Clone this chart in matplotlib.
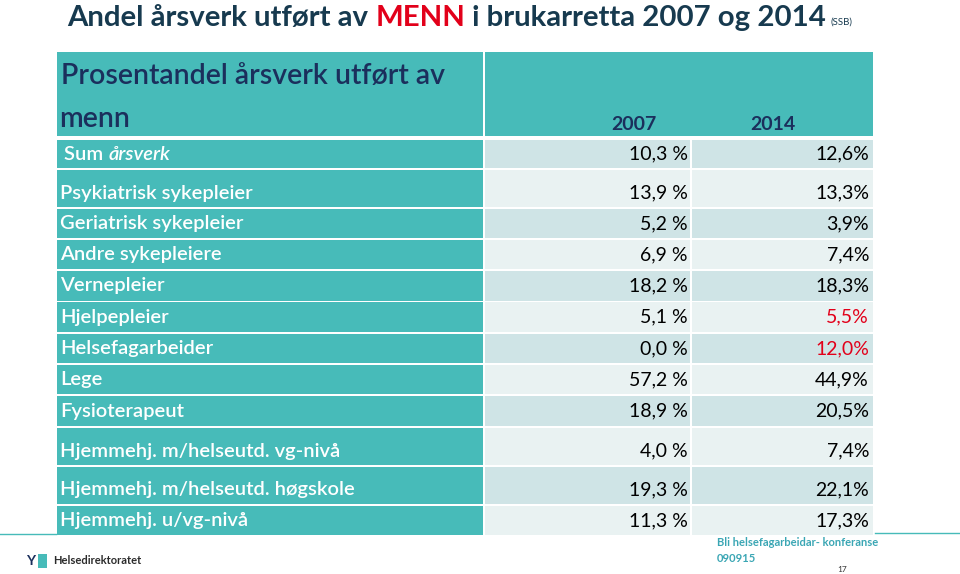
import matplotlib.pyplot as plt
from matplotlib.patches import Rectangle

# table content
categories = ["Sum årsverk", "Psykiatrisk sykepleier", "Geriatrisk sykepleier", "Andre sykepleiere",
              "Vernepleier", "Hjelpepleier", "Helsefagarbeider", "Lege", "Fysioterapeut",
              "Hjemmehj. m/helseutd. vg-nivå", "Hjemmehj. m/helseutd. høgskole", "Hjemmehj. u/vg-nivå"]
share_2007 = [10.3, 13.9, 5.2, 6.9, 18.2, 5.1, 0.0, 57.2, 18.9, 4.0, 19.3, 11.3]
share_2014 = [12.6, 13.3, 3.9, 7.4, 18.3, 5.5, 12.0, 44.9, 20.5, 7.4, 22.1, 17.3]
highlight_2014 = ["Hjelpepleier", "Helsefagarbeider"]
years = ["2007", "2014"]

# layout (pixels)
row_tops = [140, 170, 209, 240, 271, 302, 334, 365, 396, 428, 467, 506]
row_bottoms = [168, 207, 238, 269, 301, 332, 363, 394, 426, 465, 504, 535]
x_left, x_mid, x_c2, x_right = 57, 484, 691, 873

TEAL = "#47bbb9"
LIGHT1 = "#cfe4e6"
LIGHT2 = "#e9f2f2"
NAVY = "#1b2f5c"
TITLE = "#173a4f"
RED = "#e2001a"
FONT = ["Lato", "DejaVu Sans"]

fig = plt.figure(figsize=(9.6, 5.74), dpi=100)
ax = fig.add_axes([0, 0, 1, 1])
ax.set_xlim(0, 960)
ax.set_ylim(574, 0)
ax.axis("off")

# title
t = ax.text(67, 18, "Andel årsverk utført av ", fontsize=21.2, fontweight="bold", color=TITLE,
            va="center", ha="left", family=FONT)
fig.canvas.draw()
r = fig.canvas.get_renderer()


def after(txt):
    bb = txt.get_window_extent(renderer=r)
    return ax.transData.inverted().transform((bb.x1, 0))[0]


t2 = ax.text(after(t), 18, "MENN", fontsize=21.2, fontweight="bold", color=RED,
             va="center", ha="left", family=FONT)
t3 = ax.text(after(t2), 18, " i brukarretta 2007 og 2014", fontsize=21.2, fontweight="bold",
             color=TITLE, va="center", ha="left", family=FONT)
ax.text(after(t3) + 5, 22, "(SSB)", fontsize=7, color=TITLE, va="center", ha="left", family=FONT)

# header
ax.add_patch(Rectangle((x_left, 52), x_mid - 1 - x_left, 84, color=TEAL, lw=0))
ax.add_patch(Rectangle((x_mid + 1, 52), x_right - x_mid - 1, 84, color=TEAL, lw=0))
ax.text(61, 76, "Prosentandel årsverk utført av", fontsize=20.5, fontweight="semibold",
        color=NAVY, va="center", ha="left", family=FONT)
ax.text(59, 119, "menn", fontsize=20.5, fontweight="semibold", color=NAVY,
        va="center", ha="left", family=FONT)
ax.text(634, 124, years[0], fontsize=14, fontweight="bold", color=NAVY,
        va="center", ha="center", family=FONT)
ax.text(773, 124, years[1], fontsize=14, fontweight="bold", color=NAVY,
        va="center", ha="center", family=FONT)

# rows
for i, cat in enumerate(categories):
    top, bot = row_tops[i], row_bottoms[i]
    h = bot - top
    shade = LIGHT1 if i % 2 == 0 else LIGHT2
    ax.add_patch(Rectangle((x_left, top), x_mid - 1 - x_left, h, color=TEAL, lw=0))
    ax.add_patch(Rectangle((x_mid + 1, top), x_c2 - x_mid - 2, h, color=shade, lw=0))
    ax.add_patch(Rectangle((x_c2 + 1, top), x_right - x_c2 - 1, h, color=shade, lw=0))
    ty = bot - 14 if h > 33 else (top + bot) / 2
    if cat == "Sum årsverk":
        s = ax.text(64, ty, "Sum ", fontsize=14.5, fontweight="semibold", color="white",
                    va="center", ha="left", family=FONT)
        ax.text(after(s), ty, "årsverk", fontsize=14.5, fontweight="semibold", style="italic",
                color="white", va="center", ha="left", family=FONT)
    else:
        ax.text(60, ty, cat, fontsize=14.5, fontweight="semibold", color="white",
                va="center", ha="left", family=FONT)
    v1 = f"{share_2007[i]:.1f} %".replace(".", ",")
    v2 = f"{share_2014[i]:.1f}%".replace(".", ",")
    ax.text(688, ty, v1, fontsize=14, color="black", va="center", ha="right", family=FONT)
    ax.text(869, ty, v2, fontsize=14, color=RED if cat in highlight_2014 else "black",
            va="center", ha="right", family=FONT)

# footer
ax.plot([0, 56], [534, 534], color=TEAL, lw=1)
ax.plot([875, 960], [533, 533], color=TEAL, lw=1)
ax.add_patch(Rectangle((38, 554), 9, 14, color=TEAL, lw=0))
ax.text(31, 561, "Y", fontsize=10, fontweight="bold", color=NAVY, va="center", ha="center", family=FONT)
ax.text(53, 561, "Helsedirektoratet", fontsize=8, fontweight="bold", color="#2b2b2b",
        va="center", ha="left", family=FONT)
ax.text(717, 542, "Bli helsefagarbeidar- konferanse", fontsize=8, fontweight="bold",
        color="#3aa6b4", va="center", ha="left", family=FONT)
ax.text(717, 559, "090915", fontsize=8, fontweight="bold", color="#3aa6b4",
        va="center", ha="left", family=FONT)
ax.text(842, 570, "17", fontsize=6, color="#333333", va="center", ha="center", family=FONT)

fig.savefig("out.png", dpi=100)
